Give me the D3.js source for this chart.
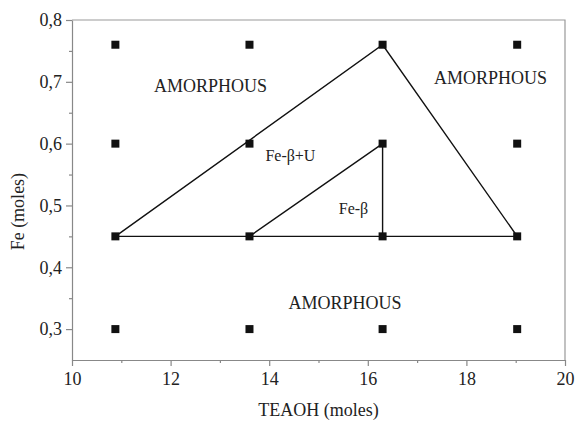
<!DOCTYPE html>
<html>
<head>
<meta charset="utf-8">
<script src="https://cdn.jsdelivr.net/npm/d3@7"></script>
<style>
  body { margin: 0; background: #fff; }
  svg text { font-family: "Liberation Serif", "DejaVu Serif", serif; fill: #222; }
</style>
</head>
<body>
<div id="chart"></div>
<script>
// TEAOH / Fe grid of syntheses
var teaoh = [10.88, 13.6, 16.3, 19.03];
var fe = [0.76, 0.6, 0.45, 0.3];

// region boundaries
var outerRegion = [[10.88, 0.45], [16.3, 0.76], [19.03, 0.45], [10.88, 0.45]];
var innerRegion = [[13.6, 0.45], [16.3, 0.6], [16.3, 0.45]];

var regionLabels = [
  { text: "AMORPHOUS", x: 12.81, y: 0.693 },
  { text: "AMORPHOUS", x: 18.49, y: 0.706 },
  { text: "AMORPHOUS", x: 15.54, y: 0.342 },
  { text: "Fe-β+U", x: 14.43, y: 0.581 },
  { text: "Fe-β", x: 15.71, y: 0.495 }
];

var xTicks = [10, 12, 14, 16, 18, 20];
var yTicks = [0.3, 0.4, 0.5, 0.6, 0.7, 0.8];
var xMinor = [11, 13, 15, 17, 19];
var yMinor = [0.35, 0.45, 0.55, 0.65, 0.75];

var W = 576, H = 421;
var m = { left: 72, right: 11, top: 20, bottom: 61 };

var svg = d3.select("#chart").append("svg")
  .attr("width", W)
  .attr("height", H);

var x = d3.scaleLinear().domain([10, 20]).range([m.left, W - m.right]);
var y = d3.scaleLinear().domain([0.25, 0.8]).range([H - m.bottom, m.top]);

// frame top/right
svg.append("path")
  .attr("d", "M" + x(10) + "," + y(0.8) + "H" + x(20) + "V" + y(0.25))
  .attr("fill", "none")
  .attr("stroke", "#999")
  .attr("stroke-width", 1.2);

var fmt = function (d) { return d3.format(".1f")(d).replace(".", ","); };

var xAxis = svg.append("g")
  .attr("transform", "translate(0," + y(0.25) + ")")
  .call(d3.axisBottom(x).tickValues(xTicks).tickSize(6).tickSizeOuter(0).tickPadding(6));
var xAxisMinor = svg.append("g")
  .attr("transform", "translate(0," + y(0.25) + ")")
  .call(d3.axisBottom(x).tickValues(xMinor).tickSize(3).tickFormat(""));

var yAxis = svg.append("g")
  .attr("transform", "translate(" + x(10) + ",0)")
  .call(d3.axisLeft(y).tickValues(yTicks).tickSize(6).tickSizeOuter(0).tickPadding(4).tickFormat(fmt));
var yAxisMinor = svg.append("g")
  .attr("transform", "translate(" + x(10) + ",0)")
  .call(d3.axisLeft(y).tickValues(yMinor).tickSize(3).tickFormat(""));

svg.selectAll(".domain").attr("stroke", "#888").attr("stroke-width", 1.2);
xAxisMinor.select(".domain").remove();
yAxisMinor.select(".domain").remove();
svg.selectAll(".tick line").attr("stroke", "#888").attr("stroke-width", 1.2);
svg.selectAll(".tick text")
  .style("font-size", "18px")
  .style("font-family", "Liberation Serif, serif")
  .attr("fill", "#222");

// region lines
var line = d3.line().x(function (d) { return x(d[0]); }).y(function (d) { return y(d[1]); });
svg.append("path").datum(outerRegion)
  .attr("d", line).attr("fill", "none").attr("stroke", "#111").attr("stroke-width", 1.4);
svg.append("path").datum(innerRegion)
  .attr("d", line).attr("fill", "none").attr("stroke", "#111").attr("stroke-width", 1.4);

// grid points
var pts = [];
fe.forEach(function (f) { teaoh.forEach(function (t) { pts.push([t, f]); }); });
var s = 8;
svg.append("g").selectAll("rect")
  .data(pts)
  .enter()
  .append("rect")
  .attr("x", function (d) { return x(d[0]) - s / 2; })
  .attr("y", function (d) { return y(d[1]) - s / 2; })
  .attr("width", s)
  .attr("height", s)
  .attr("fill", "#111");

svg.append("g").selectAll("text")
  .data(regionLabels)
  .enter()
  .append("text")
  .attr("x", function (d) { return x(d.x); })
  .attr("y", function (d) { return y(d.y); })
  .attr("dy", "0.35em")
  .attr("text-anchor", "middle")
  .style("font-size", function (d) { return d.text == "AMORPHOUS" ? "18px" : "16px"; })
  .text(function (d) { return d.text; });

// axis titles
svg.append("text")
  .attr("x", (x(10) + x(20)) / 2)
  .attr("y", 416)
  .attr("text-anchor", "middle")
  .style("font-size", "18px")
  .text("TEAOH (moles)");

svg.append("text")
  .attr("transform", "translate(24," + y(0.49) + ") rotate(-90)")
  .attr("text-anchor", "middle")
  .style("font-size", "18px")
  .text("Fe (moles)");
</script>
</body>
</html>
